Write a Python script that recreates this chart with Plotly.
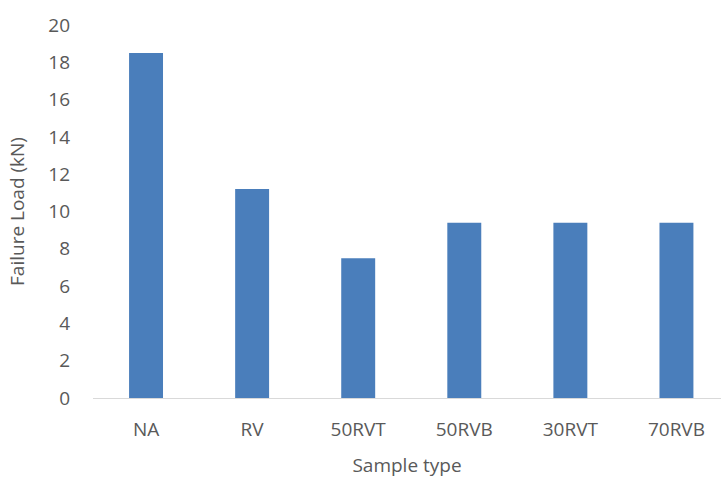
import plotly.graph_objects as go

# Failure load per sample type
sample_types = ["NA", "RV", "50RVT", "50RVB", "30RVT", "70RVB"]
failure_load_kn = [18.5, 11.2, 7.5, 9.4, 9.4, 9.4]
y_ticks = [0, 2, 4, 6, 8, 10, 12, 14, 16, 18, 20]

font_family = "Open Sans, Liberation Sans, sans-serif"
text_color = "#595959"

fig = go.Figure(
    go.Bar(
        x=sample_types,
        y=failure_load_kn,
        width=0.32,
        marker=dict(color="#4a7ebb", line=dict(width=0)),
    )
)

fig.update_layout(
    width=721,
    height=481,
    margin=dict(l=93, r=0, t=25, b=83),
    plot_bgcolor="white",
    paper_bgcolor="white",
    showlegend=False,
    font=dict(family=font_family, size=18, color=text_color),
)

fig.update_xaxes(
    range=[-0.5, 5.42],
    showgrid=False,
    showline=True,
    linecolor="#d9d9d9",
    linewidth=1,
    ticks="",
    ticklabelstandoff=14,
    tickfont=dict(size=19, color=text_color),
    title=dict(text="Sample type", font=dict(size=19, color=text_color), standoff=17),
)

fig.update_yaxes(
    range=[0, 20],
    tickvals=y_ticks,
    showgrid=False,
    zeroline=False,
    showline=False,
    ticks="",
    ticklabelstandoff=22,
    tickfont=dict(size=19, color=text_color),
    title=dict(text="Failure Load (kN)", font=dict(size=19, color=text_color), standoff=18),
)

fig.write_html("out.html")
